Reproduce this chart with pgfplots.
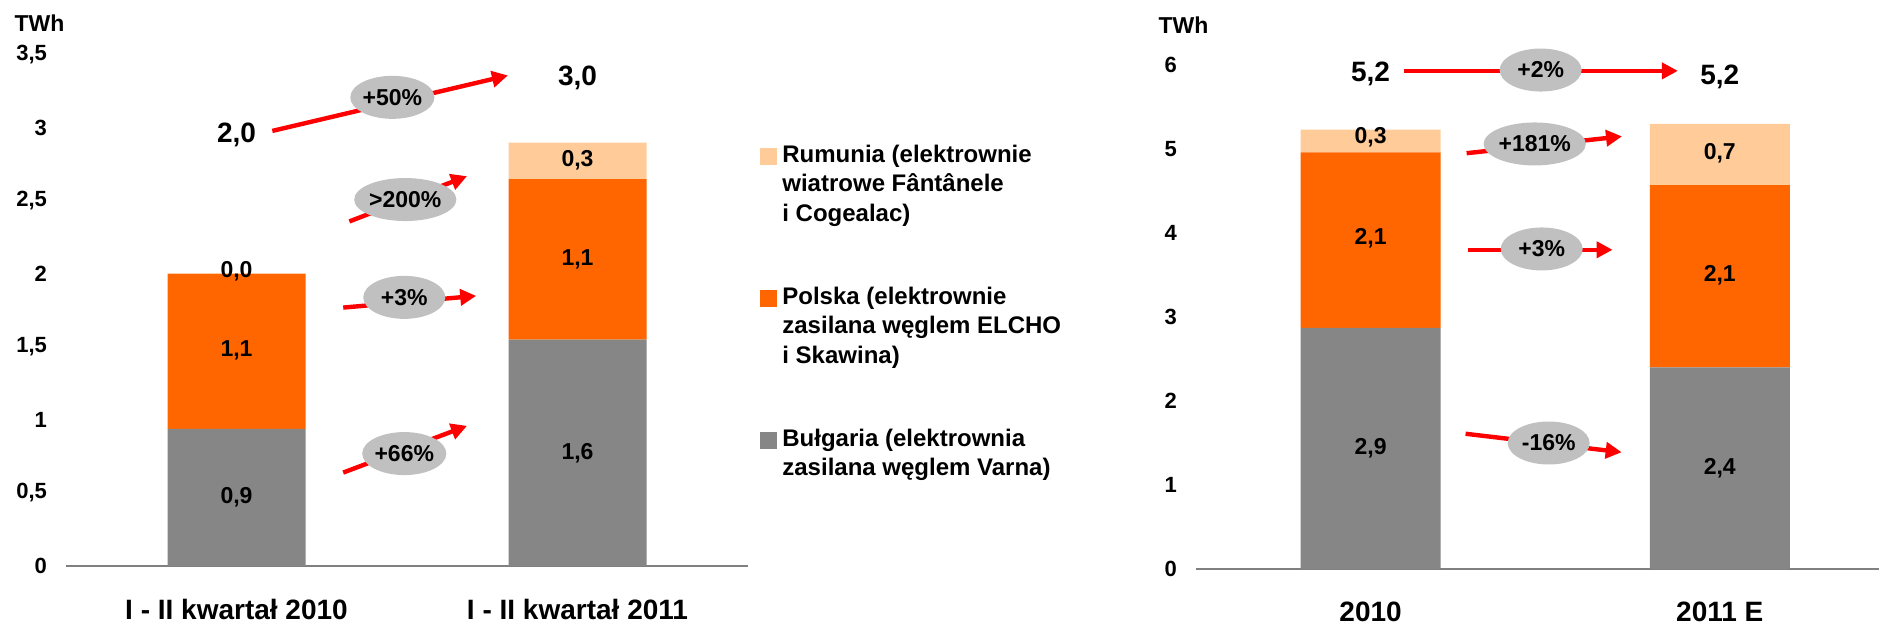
\documentclass[border=0pt]{standalone}
\usepackage{fontspec}
\setmainfont{Liberation Sans}
\usepackage{pgfplots}
\pgfplotsset{compat=1.18}
\usetikzlibrary{arrows.meta,shapes.geometric}

\definecolor{bulg}{HTML}{868686}
\definecolor{pols}{HTML}{FF6600}
\definecolor{rum}{HTML}{FFCC99}
\definecolor{oval}{HTML}{C0C0C0}
\definecolor{axisgray}{HTML}{808080}

\newcommand{\fs}[1]{\fontsize{#1}{#1}\selectfont\bfseries}

\pgfplotsset{
  twh/.style={
    scale only axis, ybar stacked, clip=false,
    anchor=south west,
    axis lines=left,
    x axis line style={-, axisgray, line width=1pt},
    y axis line style={draw=none},
    tick style={draw=none}, major tick length=0pt,
    xtick={0,1}, ymin=0,
    /pgf/number format/use comma,
    /pgf/number format/fixed,
    /pgf/number format/assume math mode=true,
    yticklabel style={font=\fs{11}, xshift=-6pt},
    xticklabel style={font=\fs{14}, yshift=-13pt},
  },
  sq/.style={legend image code/.code={\fill[##1] (0pt,-1.25pt) rectangle (8.5pt,7.25pt);}},
}
\tikzset{
  lbl/.style={font=\fs{11.5}},
  big/.style={font=\fs{14}},
  pct/.style={ellipse, fill=oval, inner sep=0pt, minimum width=41pt, minimum height=21.5pt, font=\fs{11.5}},
  arr/.style={red, line width=2.2pt, -{Triangle[length=8pt,width=8pt]}},
}

\begin{document}
\begin{tikzpicture}
\useasboundingbox (0,0) rectangle (939.5pt,313.5pt);

% I-II kwartal
\begin{axis}[twh,
  at={(33pt,30.5pt)}, width=341pt, height=255.5pt,
  xmin=-0.5, xmax=1.5, ymax=3.5,
  ytick={0,0.5,1,1.5,2,2.5,3,3.5},
  bar width=69pt,
  xticklabels={I - II kwartał 2010, I - II kwartał 2011},
  reverse legend,
  legend style={draw=none, fill=none, inner sep=0pt,
    at={(axis description cs:1.0176,0.8317)}, anchor=north west,
    font=\fontsize{12}{14.75}\selectfont\bfseries,
    nodes={inner sep=0pt}, cells={anchor=base west},
    column sep=2.5pt, row sep=59.2pt},
]
\addplot[fill=bulg, draw=none, sq] coordinates {(0,0.94) (1,1.55)};
\addlegendentry{\begin{tabular}[t]{@{}l@{}}Bułgaria (elektrownia\\zasilana węglem Varna)\end{tabular}}
\addplot[fill=pols, draw=none, sq] coordinates {(0,1.06) (1,1.10)};
\addlegendentry{\begin{tabular}[t]{@{}l@{}}Polska (elektrownie\\zasilana węglem ELCHO\\i Skawina)\end{tabular}}
\addplot[fill=rum, draw=none, sq] coordinates {(0,0.005) (1,0.25)};
\addlegendentry{\begin{tabular}[t]{@{}l@{}}Rumunia (elektrownie\\wiatrowe Fântânele\\i Cogealac)\end{tabular}}

\coordinate (aT) at (axis description cs:-0.0389,1.0626);
\coordinate (a1) at (axis cs:0,0.47);
\coordinate (a2) at (axis cs:0,1.48);
\coordinate (a3) at (axis cs:0,2.02);
\coordinate (a4) at (axis cs:1,0.77);
\coordinate (a5) at (axis cs:1,2.10);
\coordinate (a6) at (axis cs:1,2.78);
\coordinate (aS1) at (axis cs:0,2.95);
\coordinate (aS2) at (axis cs:1,3.34);
\coordinate (p1s) at (axis cs:0.105,2.98);
\coordinate (p1e) at (axis cs:0.796,3.36);
\coordinate (p1) at (axis cs:0.457,3.21);
\coordinate (p2s) at (axis cs:0.331,2.36);
\coordinate (p2e) at (axis cs:0.676,2.67);
\coordinate (p2) at (axis cs:0.495,2.51);
\coordinate (p3s) at (axis cs:0.313,1.77);
\coordinate (p3e) at (axis cs:0.703,1.85);
\coordinate (p3) at (axis cs:0.492,1.84);
\coordinate (p4s) at (axis cs:0.313,0.64);
\coordinate (p4e) at (axis cs:0.676,0.96);
\coordinate (p4) at (axis cs:0.492,0.77);
\end{axis}

% 2010 / 2011 E
\begin{axis}[twh,
  at={(598pt,29pt)}, width=341.5pt, height=252pt,
  xmin=-0.5, xmax=1.456, ymax=6,
  ytick={0,1,2,3,4,5,6},
  bar width=70pt,
  xticklabels={2010, 2011 E},
]
\addplot[fill=bulg, draw=none] coordinates {(0,2.87) (1,2.40)};
\addplot[fill=pols, draw=none] coordinates {(0,2.09) (1,2.17)};
\addplot[fill=rum, draw=none] coordinates {(0,0.27) (1,0.73)};

\coordinate (bT) at (axis description cs:-0.0183,1.079);
\coordinate (b1) at (axis cs:0,1.44);
\coordinate (b2) at (axis cs:0,3.94);
\coordinate (b3) at (axis cs:0,5.14);
\coordinate (b4) at (axis cs:1,1.20);
\coordinate (b5) at (axis cs:1,3.50);
\coordinate (b6) at (axis cs:1,4.95);
\coordinate (bS1) at (axis cs:0,5.89);
\coordinate (bS2) at (axis cs:1,5.86);
\coordinate (q1s) at (axis cs:0.097,5.93);
\coordinate (q1e) at (axis cs:0.88,5.93);
\coordinate (q1) at (axis cs:0.487,5.94);
\coordinate (q2s) at (axis cs:0.275,4.95);
\coordinate (q2e) at (axis cs:0.72,5.15);
\coordinate (q2) at (axis cs:0.47,5.06);
\coordinate (q3s) at (axis cs:0.278,3.80);
\coordinate (q3e) at (axis cs:0.693,3.80);
\coordinate (q3) at (axis cs:0.49,3.81);
\coordinate (q4s) at (axis cs:0.272,1.61);
\coordinate (q4e) at (axis cs:0.719,1.39);
\coordinate (q4) at (axis cs:0.51,1.50);
\end{axis}

% annotations on top of the bars
\node[font=\fs{11.5}] at (aT) {TWh};
\node[lbl] at (a1) {0,9};
\node[lbl] at (a2) {1,1};
\node[lbl] at (a3) {0,0};
\node[lbl] at (a4) {1,6};
\node[lbl] at (a5) {1,1};
\node[lbl] at (a6) {0,3};
\node[big] at (aS1) {2,0};
\node[big] at (aS2) {3,0};
\draw[arr] (p1s) -- (p1e);
\draw[arr] (p2s) -- (p2e);
\draw[arr] (p3s) -- (p3e);
\draw[arr] (p4s) -- (p4e);
\node[pct] at (p1) {+50\%};
\node[pct] at (p2) {>200\%};
\node[pct] at (p3) {+3\%};
\node[pct] at (p4) {+66\%};

\node[font=\fs{11.5}] at (bT) {TWh};
\node[lbl] at (b1) {2,9};
\node[lbl] at (b2) {2,1};
\node[lbl] at (b3) {0,3};
\node[lbl] at (b4) {2,4};
\node[lbl] at (b5) {2,1};
\node[lbl] at (b6) {0,7};
\node[big] at (bS1) {5,2};
\node[big] at (bS2) {5,2};
\draw[arr] (q1s) -- (q1e);
\draw[arr] (q2s) -- (q2e);
\draw[arr] (q3s) -- (q3e);
\draw[arr] (q4s) -- (q4e);
\node[pct] at (q1) {+2\%};
\node[pct] at (q2) {+181\%};
\node[pct] at (q3) {+3\%};
\node[pct] at (q4) {-16\%};
\end{tikzpicture}
\end{document}
